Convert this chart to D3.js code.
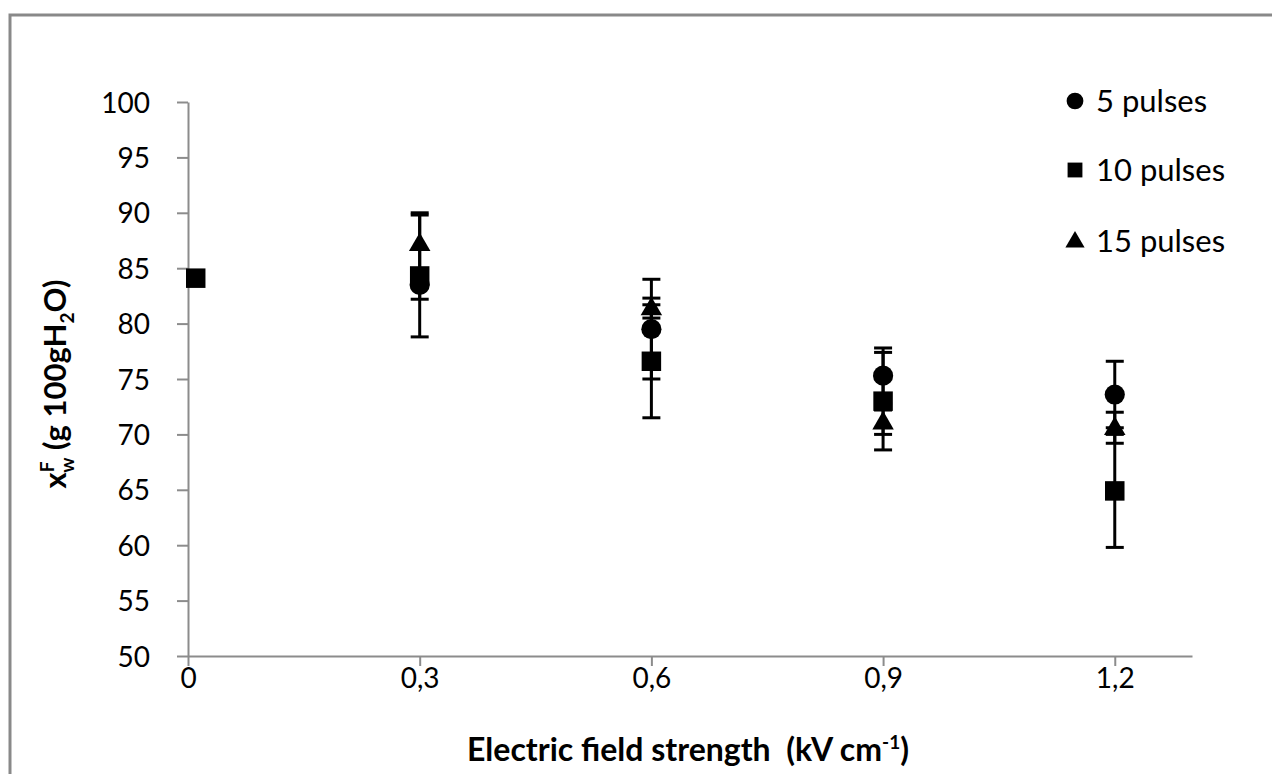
<!DOCTYPE html>
<html>
<head>
<script src="https://cdnjs.cloudflare.com/ajax/libs/d3/7.8.5/d3.min.js"></script>
<style>
  body { margin: 0; background: #fff; }
  text { font-family: Lato, "Open Sans", sans-serif; fill: #000; }
</style>
</head>
<body>
<div id="vis"></div>
<script>
const w = 1272, h = 774;

// field strength (kV/cm)
const field = [0.01, 0.3, 0.6, 0.9, 1.2];
const pulses5 = [null, 83.5, 79.5, 75.3, 73.6];
const err5 = [0, 1.3, 4.5, 2.5, 3.0];
const pulses10 = [84.1, 84.3, 76.6, 73.0, 64.9];
const err10 = [0, 5.5, 5.1, 4.4, 5.1];
const pulses15 = [null, 87.2, 81.4, 71.1, 70.6];
const err15 = [0, 2.8, 0.9, 1.1, 1.4];
const xTicks = [0, 0.3, 0.6, 0.9, 1.2];
const yTicks = d3.range(50, 101, 5);
const seriesNames = ["5 pulses", "10 pulses", "15 pulses"];

const series = [
  {name: seriesNames[0], vals: pulses5, errs: err5, shape: d3.symbolCircle},
  {name: seriesNames[1], vals: pulses10, errs: err10, shape: d3.symbolSquare},
  {name: seriesNames[2], vals: pulses15, errs: err15, shape: d3.symbolTriangle}
];

const svg = d3.select("#vis").append("svg").attr("width", w).attr("height", h);

// outer frame
svg.append("rect")
  .attr("x", 10).attr("y", 15).attr("width", 1300).attr("height", 800)
  .attr("fill", "none").attr("stroke", "#898989").attr("stroke-width", 3);

const x = d3.scaleLinear().domain([0, 1.3]).range([188, 1192]);
const y = d3.scaleLinear().domain([50, 100]).range([656, 102]);

const xAxis = svg.append("g")
  .attr("transform", "translate(0," + y(50) + ")")
  .call(d3.axisBottom(x).tickValues(xTicks).tickSize(10).tickSizeOuter(0).tickPadding(2)
    .tickFormat(d => d === 0 ? "0" : d3.format(".1f")(d).replace(".", ",")));
const yAxis = svg.append("g")
  .attr("transform", "translate(" + x(0) + ",0)")
  .call(d3.axisLeft(y).tickValues(yTicks).tickSize(11).tickSizeOuter(0).tickPadding(27));

[xAxis, yAxis].forEach(g => {
  g.select(".domain").attr("stroke", "#8c8c8c").attr("stroke-width", 2);
  g.selectAll(".tick line").attr("stroke", "#8c8c8c").attr("stroke-width", 2);
  g.selectAll(".tick text").style("font-size", "28px").attr("fill", "#000");
});
yAxis.selectAll(".tick text").attr("dy", "0.36em");

// error bars and markers
series.forEach(s => {
  const pts = field.map((f, i) => ({f, v: s.vals[i], e: s.errs[i]})).filter(d => d.v !== null);
  const g = svg.append("g");
  const eb = pts.filter(d => d.e > 0);
  g.selectAll("line.bar").data(eb).join("line")
    .attr("x1", d => x(d.f)).attr("x2", d => x(d.f))
    .attr("y1", d => y(d.v - d.e)).attr("y2", d => y(d.v + d.e))
    .attr("stroke", "#000").attr("stroke-width", 3);
  [-1, 1].forEach(sgn => {
    g.selectAll("line.cap" + sgn).data(eb).join("line")
      .attr("x1", d => x(d.f) - 9).attr("x2", d => x(d.f) + 9)
      .attr("y1", d => y(d.v + sgn * d.e)).attr("y2", d => y(d.v + sgn * d.e))
      .attr("stroke", "#000").attr("stroke-width", 3);
  });
});
series.forEach(s => {
  const pts = field.map((f, i) => ({f, v: s.vals[i]})).filter(d => d.v !== null);
  const size = s.shape === d3.symbolTriangle ? 200 : (s.shape === d3.symbolSquare ? 380 : 320);
  svg.append("g").selectAll("path").data(pts).join("path")
    .attr("transform", d => "translate(" + x(d.f) + "," + (y(d.v) + (s.shape === d3.symbolTriangle ? 1 : 0)) + ")")
    .attr("d", d3.symbol().type(s.shape).size(size))
    .attr("fill", "#000");
});

// legend
const legY = [101, 170, 241];
series.forEach((s, i) => {
  const size = s.shape === d3.symbolTriangle ? 160 : 220;
  svg.append("path")
    .attr("transform", "translate(1075," + (legY[i] + (s.shape === d3.symbolTriangle ? 1 : 0)) + ")")
    .attr("d", d3.symbol().type(s.shape).size(size))
    .attr("fill", "#000");
  svg.append("text").attr("x", 1096).attr("y", legY[i]).attr("dy", "0.36em")
    .style("font-size", "31px").text(s.name);
});

// axis titles
const xt = svg.append("text").attr("x", 688).attr("y", 761)
  .attr("text-anchor", "middle").style("font-size", "32px").style("font-weight", "bold");
xt.append("tspan").text("Electric field strength\u00a0\u00a0(kV cm");
xt.append("tspan").attr("dy", -12).style("font-size", "19px").text("-1");
xt.append("tspan").attr("dy", 12).text(")");

const yt = svg.append("text").attr("transform", "translate(66,384) rotate(-90)")
  .attr("text-anchor", "middle").style("font-size", "31px").style("font-weight", "bold");
yt.append("tspan").text("x");
yt.append("tspan").attr("dy", -12).style("font-size", "19px").text("F");
yt.append("tspan").attr("dx", -11).attr("dy", 20).style("font-size", "19px").text("w");
yt.append("tspan").attr("dy", -8).text(" (g 100gH");
yt.append("tspan").attr("dy", 8).style("font-size", "19px").text("2");
yt.append("tspan").attr("dy", -8).text("O)");
</script>
</body>
</html>
